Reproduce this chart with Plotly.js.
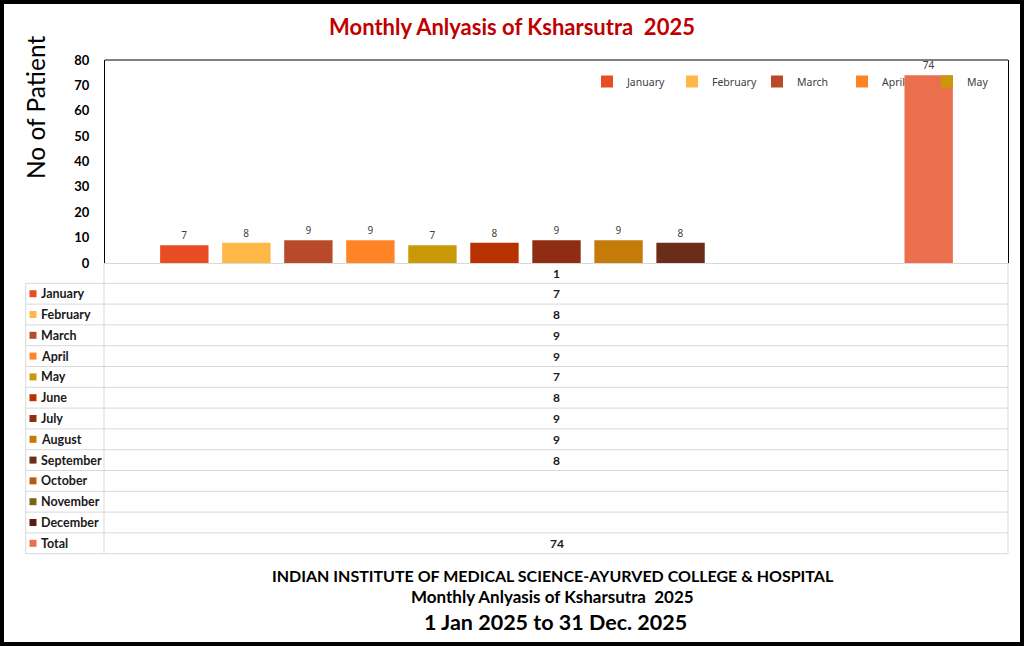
<!DOCTYPE html>
<html>
<head>
<meta charset="utf-8">
<script src="https://cdn.plot.ly/plotly-3.0.1.min.js"></script>
<style>
  html, body { margin: 0; padding: 0; background: #fff; }
  #chart { width: 1024px; height: 646px; }
</style>
</head>
<body>
<div id="chart"></div>
<script>
// ---- data ----
const category = ['1'];
const months = ['January', 'February', 'March', 'April', 'May', 'June', 'July',
                'August', 'September', 'October', 'November', 'December', 'Total'];
const patients = [7, 8, 9, 9, 7, 8, 9, 9, 8, null, null, null, 74];
const colors = ['#E84C22', '#FFB746', '#B84A2A', '#FF8426', '#C99A06', '#B83100', '#8E2D12',
                '#C57B0A', '#6B2C1A', '#B45B16', '#7C6417', '#5A1B10', '#EB6F4D'];
const chartTitle = 'Monthly Anlyasis of Ksharsutra  2025';
const yTitle = 'No of Patient';
const footer1 = 'INDIAN INSTITUTE OF MEDICAL SCIENCE-AYURVED COLLEGE &amp; HOSPITAL';
const footer2 = 'Monthly Anlyasis of Ksharsutra  2025';
const footer3 = '1 Jan 2025 to 31 Dec. 2025';

// ---- layout geometry helpers (pixel -> paper) ----
const L = 105, R = 1008, T = 60, B = 263;
const PX = x => (x - L) / (R - L);
const PY = y => (B - y) / (B - T);
const FONT = 'Lato, "Open Sans", sans-serif';

const traces = months.map((m, i) => ({
  type: 'bar',
  x: category,
  y: [patients[i]],
  name: m,
  marker: { color: colors[i] },
  text: patients[i] == null ? [''] : [String(patients[i])],
  textposition: 'outside',
  textfont: { family: '"Noto Sans", sans-serif', size: 10, color: '#404040' },
  cliponaxis: false,
  showlegend: i < 5,
  hoverinfo: 'name+y'
}));

// ---- data table (shapes + annotations) ----
const shapes = [];
const annotations = [];
const gridColor = '#D9D9D9';
const row0 = 283.3, rowH = 20.8;
const nRows = months.length;
const tableBottom = row0 + nRows * rowH;

for (let k = 0; k <= nRows; k++) {
  const y = row0 + k * rowH;
  shapes.push({ type: 'line', xref: 'paper', yref: 'paper', x0: PX(25.7), x1: PX(R), y0: PY(y), y1: PY(y),
    line: { color: gridColor, width: 1 } });
}
shapes.push({ type: 'line', xref: 'paper', yref: 'paper', x0: PX(104), x1: PX(104), y0: PY(B), y1: PY(tableBottom),
  line: { color: gridColor, width: 1 } });
shapes.push({ type: 'line', xref: 'paper', yref: 'paper', x0: PX(25.7), x1: PX(25.7), y0: PY(row0), y1: PY(tableBottom),
  line: { color: gridColor, width: 1 } });
shapes.push({ type: 'line', xref: 'paper', yref: 'paper', x0: PX(R), x1: PX(R), y0: PY(B), y1: PY(tableBottom),
  line: { color: gridColor, width: 1 } });
// top border of plot area
shapes.push({ type: 'line', xref: 'paper', yref: 'paper', x0: 0, x1: 1, y0: 1, y1: 1,
  line: { color: '#000', width: 1 } });

// header cell
annotations.push({ xref: 'paper', yref: 'paper', x: PX((L + R) / 2), y: PY(row0 - rowH / 2 + 0.5),
  text: '<b>' + category[0] + '</b>', showarrow: false, xanchor: 'center', yanchor: 'middle',
  font: { family: FONT, size: 12, color: '#1a1a1a' } });

months.forEach((m, i) => {
  const cy = row0 + (i + 0.5) * rowH;
  shapes.push({ type: 'rect', xref: 'paper', yref: 'paper', x0: PX(29.5), x1: PX(36.5), y0: PY(cy - 3.5), y1: PY(cy + 3.5),
    fillcolor: colors[i], line: { width: 0 } });
  annotations.push({ xref: 'paper', yref: 'paper', x: PX(38.5), y: PY(cy), text: '<b>' + m + '</b>',
    showarrow: false, xanchor: 'left', yanchor: 'middle',
    font: { family: FONT, size: 12.5, color: '#1a1a1a' } });
  if (patients[i] != null) {
    annotations.push({ xref: 'paper', yref: 'paper', x: PX((L + R) / 2), y: PY(cy), text: '<b>' + patients[i] + '</b>',
      showarrow: false, xanchor: 'center', yanchor: 'middle',
      font: { family: FONT, size: 12, color: '#1a1a1a' } });
  }
});

// y-axis title placed like the original (upper left)
annotations.push({ xref: 'paper', yref: 'paper', x: PX(35), y: PY(108), text: yTitle, textangle: -90,
  showarrow: false, xanchor: 'center', yanchor: 'middle', font: { family: FONT, size: 24.5, color: '#000' } });

// footer
annotations.push({ xref: 'paper', yref: 'paper', x: PX(553), y: PY(575), text: '<b>' + footer1 + '</b>',
  showarrow: false, xanchor: 'center', yanchor: 'middle', font: { family: FONT, size: 16, color: '#000' } });
annotations.push({ xref: 'paper', yref: 'paper', x: PX(552), y: PY(596), text: '<b>' + footer2 + '</b>',
  showarrow: false, xanchor: 'center', yanchor: 'middle', font: { family: FONT, size: 17, color: '#000' } });
annotations.push({ xref: 'paper', yref: 'paper', x: PX(555), y: PY(622), text: '<b>' + footer3 + '</b>',
  showarrow: false, xanchor: 'center', yanchor: 'middle', font: { family: FONT, size: 21.5, color: '#000' } });

// outer frame
shapes.push({ type: 'rect', xref: 'paper', yref: 'paper', x0: PX(2), x1: PX(1022), y0: PY(2), y1: PY(644),
  line: { color: '#000', width: 4 }, fillcolor: 'rgba(0,0,0,0)' });

const layout = {
  width: 1024, height: 646,
  margin: { l: L, r: 1024 - R, t: T, b: 646 - B, pad: 0, autoexpand: false },
  paper_bgcolor: '#fff', plot_bgcolor: '#fff',
  font: { family: FONT },
  title: { text: chartTitle, xref: 'container', x: 0.5, xanchor: 'center', yref: 'container', y: 1 - 27 / 646,
    yanchor: 'middle', font: { family: FONT, size: 22, color: '#C00000', weight: 'bold' } },
  barmode: 'group', bargap: 0.107, bargroupgap: 0.22,
  xaxis: { type: 'category', range: [-0.5, 0.5], showticklabels: false, ticks: '', showgrid: false,
    showline: true, linecolor: gridColor, linewidth: 1, zeroline: false, fixedrange: true },
  yaxis: { range: [0, 80], dtick: 10, showgrid: false, zeroline: false, showline: true, linecolor: '#000',
    linewidth: 1, mirror: true, ticks: '', ticklabelstandoff: 12, fixedrange: true,
    tickfont: { family: FONT, size: 13, color: '#000', weight: 'bold' } },
  legend: { orientation: 'h', xref: 'container', x: 587 / 1024, xanchor: 'left', y: PY(67), yanchor: 'top',
    bgcolor: 'rgba(0,0,0,0)', entrywidth: 40, entrywidthmode: 'pixels',
    font: { family: '"Noto Sans", sans-serif', size: 10.5, color: '#404040' }, itemwidth: 30, traceorder: 'normal' },
  shapes: shapes,
  annotations: annotations
};

Plotly.newPlot('chart', traces, layout, { displayModeBar: false, staticPlot: true });
</script>
</body>
</html>
